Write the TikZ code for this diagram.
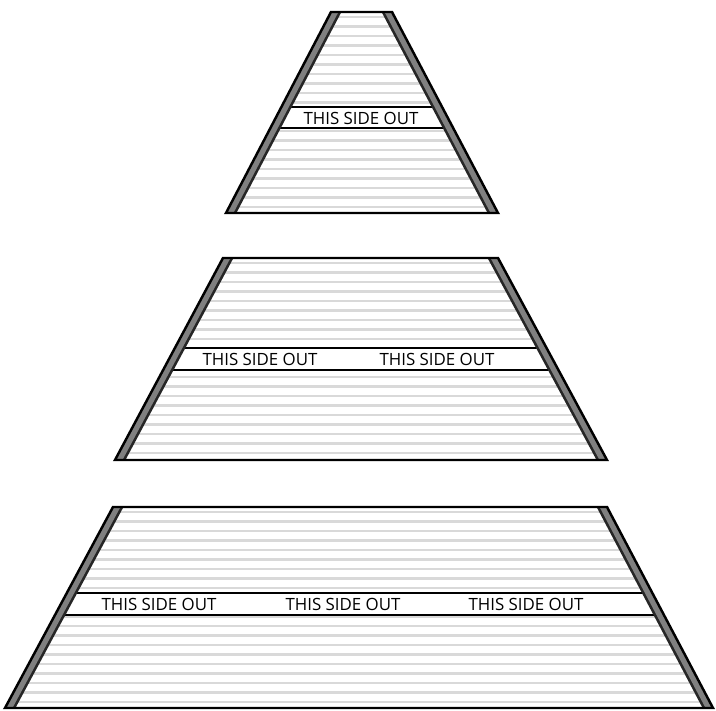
\documentclass[tikz,border=0pt]{standalone}
\usepackage{fontspec}
\setmainfont{Open Sans}
\usepackage{tikz}
\usetikzlibrary{calc}

\begin{document}
\begin{tikzpicture}[x=0.02cm, y=-0.02cm,
  slat/.style={gray!30, line width=1.2pt},
  rail/.style={line width=10.5pt, black!85},
  railcore/.style={line width=7.5pt, black!50},
  rim/.style={line width=1.4pt, black, line join=miter},
  bandline/.style={line width=1pt, black},
  stamp/.style={font=\fontsize{9.6}{10}\selectfont, inner sep=0pt},
]
\useasboundingbox (0,0) rectangle (716,710);

% three panels: top y / bottom y / top corners / bottom corners / label band
\foreach \t/\b/\tl/\tr/\bl/\br/\ba/\bz in {
    12/213/331/392/226/498/107/128,
    258/460/223/498/115/607/348/370,
    507/708/113/607/5/713/593/615}{
  \begin{scope}
    \clip (\tl,\t) -- (\tr,\t) -- (\br,\b) -- (\bl,\b) -- cycle;
    % boards
    \foreach \y in {5,14.5,...,200}
      \draw[slat] (0,\t+\y) -- (716,\t+\y);
    % white label band
    \fill[white] (0,\ba) rectangle (716,\bz);
    \draw[bandline] (0,\ba) -- (716,\ba) (0,\bz) -- (716,\bz);
    % side rails
    \draw[rail] ($(\tl,\t)!-0.1!(\bl,\b)$) -- ($(\tl,\t)!1.1!(\bl,\b)$)
                ($(\tr,\t)!-0.1!(\br,\b)$) -- ($(\tr,\t)!1.1!(\br,\b)$);
    \draw[railcore] ($(\tl,\t)!-0.1!(\bl,\b)$) -- ($(\tl,\t)!1.1!(\bl,\b)$)
                    ($(\tr,\t)!-0.1!(\br,\b)$) -- ($(\tr,\t)!1.1!(\br,\b)$);
  \end{scope}
  \draw[rim] (\bl,\b) -- (\tl,\t) -- (\tr,\t) -- (\br,\b) -- cycle;
}

% labels
\node[stamp] (topout) at (361,118) {THIS SIDE OUT};
\node[stamp] (midoutl) at (260,359) {THIS SIDE OUT};
\node[stamp] (midoutr) at (437,359) {THIS SIDE OUT};
\node[stamp] (lowoutl) at (159,604) {THIS SIDE OUT};
\node[stamp] (lowoutm) at (343,604) {THIS SIDE OUT};
\node[stamp] (lowoutr) at (526,604) {THIS SIDE OUT};
\end{tikzpicture}
\end{document}
